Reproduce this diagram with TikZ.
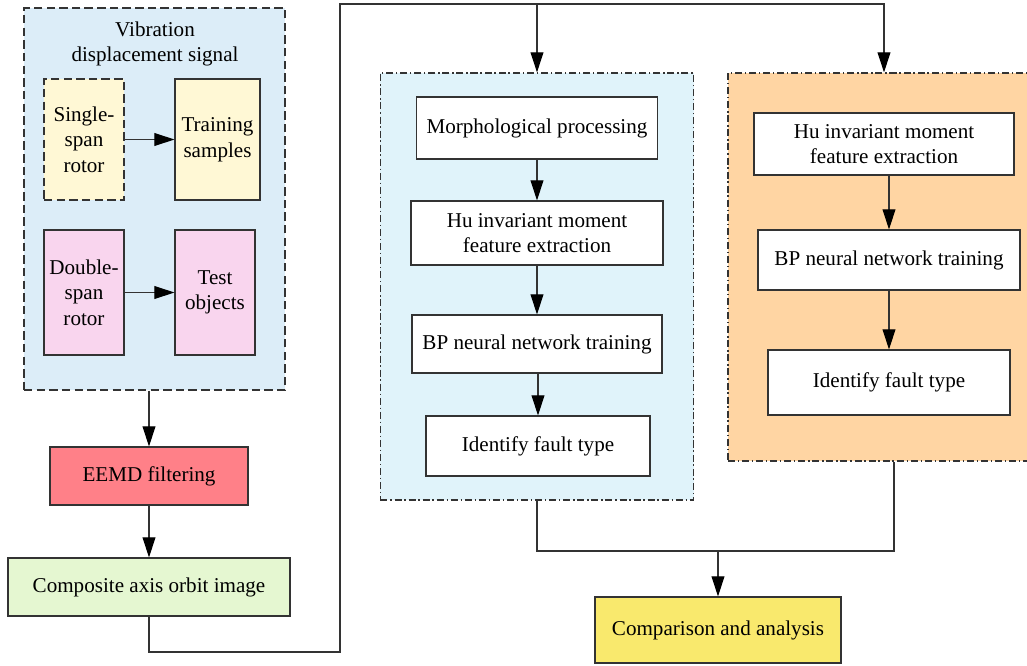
\documentclass[tikz,border=0pt]{standalone}
\usepackage{fontspec}
\setmainfont{Liberation Serif}
\usetikzlibrary{arrows.meta}
\definecolor{signalblue}{HTML}{DCEDF8}
\definecolor{sampleyellow}{HTML}{FFF8D5}
\definecolor{testpink}{HTML}{F9D5EE}
\definecolor{eemdred}{HTML}{FF8088}
\definecolor{orbitgreen}{HTML}{E5F7D1}
\definecolor{morphblue}{HTML}{E0F3FA}
\definecolor{huorange}{HTML}{FFD5A3}
\definecolor{resultyellow}{HTML}{F9E96D}
\definecolor{edge}{HTML}{333333}
\begin{document}
\begin{tikzpicture}[x=0.025cm, y=-0.025cm,
    font=\fontsize{15}{18.2}\selectfont,
    box/.style={draw=edge, line width=0.8pt, fill=white, align=center, inner sep=2pt},
    group/.style={draw=edge, line width=0.8pt, inner sep=0pt},
    longdash/.style={dash pattern=on 6pt off 3pt},
    dotdash/.style={dash pattern=on 5pt off 2pt on 1pt off 2pt},
    arrow/.style={draw=edge, line width=0.8pt, -{Triangle[length=0.5cm, width=0.32cm, color=black]}},
    link/.style={draw=edge, line width=0.8pt}]
    \useasboundingbox (0, 0) rectangle (1027, 665);
    % left column
    \node [group, longdash, fill=signalblue, minimum width=6.525cm, minimum height=9.55cm] (signal) at (154.5, 199) {};
    \node [align=center] (title) at (155, 44) {Vibration\\displacement signal};
    \node [box, longdash, fill=sampleyellow, minimum width=2cm, minimum height=3.025cm] (single) at (84, 139.5) {Single-\\span\\rotor};
    \node [box, fill=sampleyellow, minimum width=2.125cm, minimum height=3.025cm] (train) at (217.5, 139.5) {Training\\samples};
    \node [box, fill=testpink, minimum width=2cm, minimum height=3.125cm] (double) at (84, 292.5) {Double-\\span\\rotor};
    \node [box, fill=testpink, minimum width=2cm, minimum height=3.125cm] (test) at (215, 292.5) {Test\\objects};
    \node [box, fill=eemdred, minimum width=4.95cm, minimum height=1.45cm] (eemd) at (149, 476) {EEMD filtering};
    \node [box, fill=orbitgreen, minimum width=7.05cm, minimum height=1.45cm] (orbit) at (149, 587) {Composite axis orbit image};
    % middle column
    \node [group, dotdash, fill=morphblue, minimum width=7.825cm, minimum height=10.675cm] (morphgroup) at (537, 286.5) {};
    \node [box, minimum width=6.025cm, minimum height=1.55cm] (morph) at (537, 128) {Morphological processing};
    \node [box, minimum width=6.3cm, minimum height=1.6cm] (hua) at (537, 233) {Hu invariant moment\\feature extraction};
    \node [box, minimum width=6.25cm, minimum height=1.45cm] (bpa) at (537, 344) {BP neural network training};
    \node [box, minimum width=5.6cm, minimum height=1.5cm] (ida) at (538, 446) {Identify fault type};
    % right column
    \node [group, dotdash, fill=huorange, minimum width=7.8cm, minimum height=9.7cm] (hugroup) at (884, 267) {};
    \node [box, minimum width=6.5cm, minimum height=1.55cm] (hub) at (884, 144) {Hu invariant moment\\feature extraction};
    \node [box, minimum width=6.55cm, minimum height=1.5cm] (bpb) at (889, 260) {BP neural network training};
    \node [box, minimum width=6.05cm, minimum height=1.625cm] (idb) at (889, 382.5) {Identify fault type};
    \node [box, fill=resultyellow, minimum width=6.15cm, minimum height=1.65cm] (result) at (718, 630) {Comparison and analysis};
    % connectors
    \coordinate (low) at (340, 652);
    \coordinate (high) at (340, 4);
    \coordinate (join) at (718, 551);
    \draw [arrow] (single.east |- train.west) -- (train.west);
    \draw [arrow] (double.east |- test.west) -- (test.west);
    \draw [arrow] (eemd.north |- signal.south) -- (eemd.north);
    \draw [arrow] (eemd) -- (orbit);
    \draw [arrow] (orbit.south) |- (low) -- (high) -| (hugroup.north);
    \draw [arrow] (high -| morphgroup.north) -- (morphgroup.north);
    \draw [arrow] (morph) -- (hua);
    \draw [arrow] (hua) -- (bpa);
    \draw [arrow] (bpa.south -| ida.north) -- (ida);
    \draw [arrow] (hub.south -| bpb.north) -- (bpb);
    \draw [arrow] (bpb) -- (idb);
    \draw [link] (morphgroup.south) |- (join) -| ([xshift=0.25cm]hugroup.south);
    \draw [arrow] (join) -- (result);
\end{tikzpicture}
\end{document}
